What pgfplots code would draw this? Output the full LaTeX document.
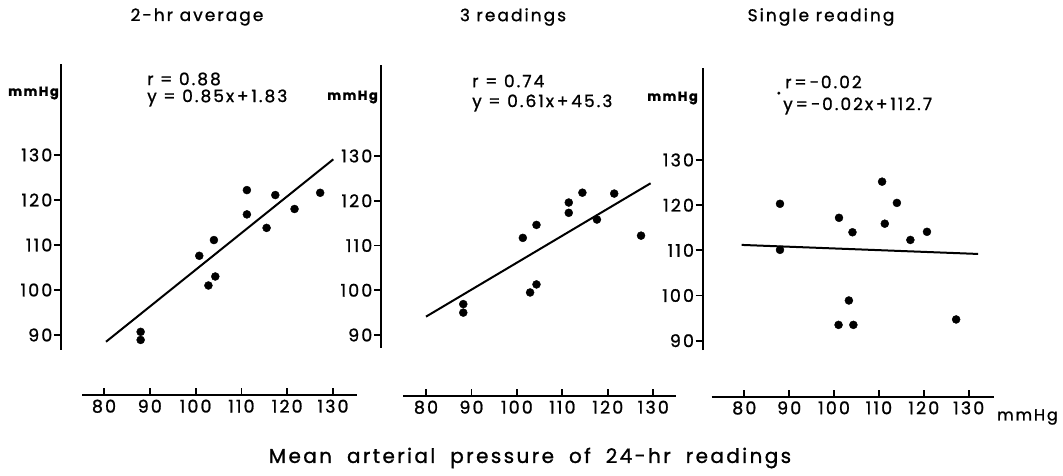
\documentclass[border=0pt]{standalone}
\usepackage{fontspec}
\setmainfont{Poppins}[FakeBold=1.1, LetterSpace=12]
\usepackage{pgfplots}
\pgfplotsset{compat=1.18}

\pgfplotsset{
  panel/.style={
    anchor=south west,
    clip=false,
    axis x line*=bottom, axis y line*=left,
    axis line style={draw=none},
    xtick={80,90,...,130}, ytick={90,100,...,130},
    xticklabels={80,90,100,110,120,130},
    yticklabels={90,100,110,120,130},
    tick align=outside,
    major tick length=7pt,
    tick style={black, line width=1.8pt},
    ticklabel style={font=\fontsize{17.5}{20}\selectfont},
    yticklabel style={inner sep=1.5pt},
    xticklabel style={inner sep=1.5pt, yshift=-3pt},
    ymax=152,
  },
  dots/.style={only marks, mark=*, mark size=4pt, black},
  fit/.style={no marks, black, line width=2pt},
}
\tikzset{axln/.style={line width=2.2pt, black}}

\begin{document}
\begin{tikzpicture}
\path (0,0) rectangle (1063pt,475pt);

% ---- 2-hr average
\begin{axis}[panel, at={(61pt,87pt)}, x=4.58pt, y=4.5pt,
  xmin=70.61, xmax=135.4, ymin=78.22]
\addplot[dots] coordinates {
 (88.0,90.7) (88.0,88.9) (100.8,107.6) (104.0,111.1) (102.8,101.0)
 (104.3,103.0) (111.2,122.2) (111.2,116.8) (115.5,113.8) (117.4,121.1)
 (121.6,118.0) (127.2,121.6)
};
\addplot[fit] coordinates {(80.44,88.5) (130.07,129.04)};
\draw[axln] (axis cs:70.61,86.7) -- (axis cs:70.61,150.2);
\draw[axln] (axis cs:75.2,76.67) -- (axis cs:135.2,76.67);
\end{axis}

% ---- 3 readings
\begin{axis}[panel, at={(381pt,86pt)}, x=4.546pt, y=4.475pt,
  xmin=70.1, xmax=135, ymin=77.93]
\addplot[dots] coordinates {
 (88.2,96.9) (88.2,95.0) (101.3,111.7) (104.3,114.6) (102.9,99.5)
 (104.3,101.3) (111.4,119.6) (111.4,117.3) (114.4,121.8) (117.6,115.8)
 (121.4,121.6) (127.3,112.2)
};
\addplot[fit] coordinates {(80.0,94.1) (129.4,123.9)};
\draw[axln] (axis cs:70.1,87.1) -- (axis cs:70.1,150.3);
\draw[axln] (axis cs:75.0,76.37) -- (axis cs:134.9,76.37);
\end{axis}

% ---- Single reading
\begin{axis}[panel, at={(702.7pt,85.3pt)}, x=4.488pt, y=4.5175pt,
  xmin=70.73, xmax=136, ymin=79.15]
\addplot[dots] coordinates {
 (87.95,120.3) (87.95,110.1) (101.1,117.2) (104.1,114.0) (103.3,98.9)
 (101.0,93.5) (104.3,93.5) (110.7,125.2) (111.3,115.9) (114.0,120.5)
 (117.0,112.3) (120.7,114.1) (127.2,94.7)
};
\addplot[only marks, mark=*, mark size=1.3pt, black] coordinates {(87.7,144.8)};
\addplot[fit] coordinates {(79.4,111.2) (132.1,109.2)};
\draw[axln] (axis cs:70.73,87.9) -- (axis cs:70.73,150.4);
\draw[axln] (axis cs:72.7,77.6) -- (axis cs:135.6,77.6);
\end{axis}

% ---- texts
\begin{scope}[every node/.style={inner sep=0pt}]
\node[font=\fontsize{17}{20}\selectfont] at (197pt,458pt) {2-hr average};
\node[font=\fontsize{17}{20}\selectfont] at (513pt,458pt) {3 readings};
\node[font=\fontsize{17}{20}\selectfont] at (821pt,458pt) {Single reading};

\node[font=\fontsize{17}{20}\selectfont, anchor=west] at (147pt,396pt) {r = 0.88};
\node[font=\fontsize{17}{20}\selectfont, anchor=west] at (147pt,377pt) {y = 0.85x\,+\,1.83};
\node[font=\fontsize{17}{20}\selectfont, anchor=west] at (472pt,394pt) {r = 0.74};
\node[font=\fontsize{17}{20}\selectfont, anchor=west] at (472pt,372pt) {y = 0.61x\,+\,45.3};
\node[font=\fontsize{17}{20}\selectfont, anchor=west] at (785pt,393pt) {r\,=\,−0.02};
\node[font=\fontsize{17}{20}\selectfont, anchor=west] at (783pt,369pt) {y\,=\,−0.02x\,+\,112.7};

\node[font=\fontsize{13}{15}\selectfont\bfseries, anchor=east] at (59pt,382pt) {mmHg};
\node[font=\fontsize{13}{15}\selectfont\bfseries, anchor=east] at (378pt,378pt) {mmHg};
\node[font=\fontsize{13}{15}\selectfont\bfseries, anchor=east] at (698pt,377pt) {mmHg};
\node[font=\fontsize{16}{18}\selectfont, anchor=west] at (997pt,58pt) {mmHg};

\node[font=\fontsize{20}{23}\selectfont] at (530pt,17pt) {Mean\hspace{15pt}arterial\hspace{15pt}pressure\hspace{15pt}of\hspace{15pt}24-hr\hspace{15pt}readings};
\end{scope}
\end{tikzpicture}
\end{document}
